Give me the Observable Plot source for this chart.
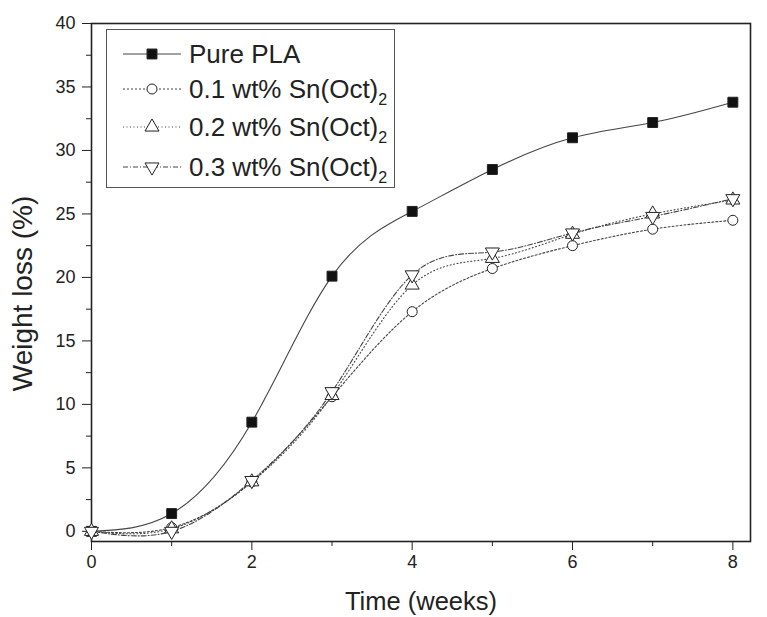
<!DOCTYPE html>
<html>
<head>
<meta charset="utf-8">
<script src="https://cdn.jsdelivr.net/npm/d3@7"></script>
<script src="https://cdn.jsdelivr.net/npm/@observablehq/plot@0.6"></script>
<style>
  body { margin: 0; background: #fff; font-family: "Liberation Sans", Arial, sans-serif; }
  #wrap { position: relative; width: 767px; height: 617px; }
  #legend { position: absolute; left: 106px; top: 29px; width: 289px; height: 159px; box-sizing: border-box;
            border: 1.5px solid #555; background: #fff; }
  .row { position: absolute; left: 0; height: 36px; display: flex; align-items: center; }
  .row svg { position: absolute; left: 16px; top: 0; }
  .row span { position: absolute; left: 82px; white-space: nowrap; font-size: 26px; color: #222; line-height: 36px; }
  .row sub { font-size: 16px; vertical-align: -7px; line-height: 0; }
</style>
</head>
<body>
<div id="wrap"></div>
<script>
// ---- data ----
const weeks = [0, 1, 2, 3, 4, 5, 6, 7, 8];
const purePLA = [0, 1.4, 8.6, 20.1, 25.2, 28.5, 31.0, 32.2, 33.8];
const sn01 = [0, 0.3, 3.9, 10.6, 17.3, 20.7, 22.5, 23.8, 24.5];
const sn02 = [0, 0.2, 3.9, 10.7, 19.4, 21.5, 23.4, 25.0, 26.1];
const sn03 = [0, 0.0, 4.0, 11.0, 20.2, 22.0, 23.5, 24.8, 26.2];
const seriesNames = ["Pure PLA", "0.1 wt% Sn(Oct)2", "0.2 wt% Sn(Oct)2", "0.3 wt% Sn(Oct)2"];
const xMajorTicks = [0, 2, 4, 6, 8];
const xMinorTicks = [1, 3, 5, 7];
const yMajorTicks = [0, 5, 10, 15, 20, 25, 30, 35, 40];
const yMinorTicks = [2.5, 7.5, 12.5, 17.5, 22.5, 27.5, 32.5, 37.5];

const triangleDown = {
  draw(ctx, size) {
    const a = Math.sqrt(4 * size / Math.sqrt(3));
    const h = a * Math.sqrt(3) / 2;
    ctx.moveTo(0, h * 2 / 3);
    ctx.lineTo(-a / 2, -h / 3);
    ctx.lineTo(a / 2, -h / 3);
    ctx.closePath();
  }
};

const styles = [
  {values: purePLA, symbol: "square", fill: "#111", dash: null, r: 5.6},
  {values: sn01, symbol: "circle", fill: "white", dash: "2,2", r: 5},
  {values: sn02, symbol: "triangle", fill: "white", dash: "1,2.5", r: 5.2},
  {values: sn03, symbol: triangleDown, fill: "white", dash: "5,2,1,2", r: 5.2}
];

const table = seriesNames.flatMap((name, s) =>
  weeks.map((w, i) => ({series: name, week: w, loss: styles[s].values[i]})));

const font = '"Liberation Sans", Arial, sans-serif';

const marks = [
  Plot.axisX({ticks: xMajorTicks, tickSize: 9, tickPadding: 5, fontSize: 18, label: null, stroke: "#222"}),
  Plot.axisX({ticks: xMinorTicks, tickSize: 5, text: null, label: null, stroke: "#222"}),
  Plot.axisY({ticks: yMajorTicks, tickSize: 9, tickPadding: 7, fontSize: 18, label: null, stroke: "#222"}),
  Plot.axisY({ticks: yMinorTicks, tickSize: 5, text: null, label: null, stroke: "#222"}),
  Plot.frame({stroke: "#222", strokeWidth: 1.6}),
  Plot.text(["Time (weeks)"], {frameAnchor: "bottom", dy: 68, fontSize: 25.5, fill: "#222"}),
  Plot.text(["Weight loss (%)"], {frameAnchor: "left", textAnchor: "middle", dx: -68, dy: 11, rotate: -90,
    fontSize: 28, fill: "#222"})
];

seriesNames.forEach((name, s) => {
  const st = styles[s];
  const d = table.filter(r => r.series === name);
  marks.push(Plot.line(d, {x: "week", y: "loss", curve: "natural", stroke: "#444", strokeWidth: 1.1,
    strokeDasharray: st.dash}));
});
seriesNames.forEach((name, s) => {
  const st = styles[s];
  const d = table.filter(r => r.series === name);
  marks.push(Plot.dot(d, {x: "week", y: "loss", symbol: () => st.symbol, r: st.r, fill: st.fill,
    stroke: "#222", strokeWidth: 1}));
});

const chart = Plot.plot({
  width: 767, height: 617,
  marginLeft: 91, marginRight: 17, marginTop: 23, marginBottom: 76,
  x: {domain: [0, 8.22]},
  y: {domain: [-0.8, 40]},
  symbol: {type: "identity"},
  style: {fontFamily: font, fontSize: "18px", color: "#222", background: "white"},
  marks
});
document.getElementById("wrap").appendChild(chart);

// ---- legend (inside the plot area) ----
const legend = document.createElement("div");
legend.id = "legend";
const rowCenters = [24, 59, 97, 137];
seriesNames.forEach((name, s) => {
  const st = styles[s];
  const row = document.createElement("div");
  row.className = "row";
  row.style.top = (rowCenters[s] - 18) + "px";
  const svg = d3.create("svg").attr("width", 60).attr("height", 36);
  svg.append("line").attr("x1", 0).attr("x2", 58).attr("y1", 18).attr("y2", 18)
    .attr("stroke", "#444").attr("stroke-width", 1.1).attr("stroke-dasharray", st.dash);
  const sym = typeof st.symbol === "string"
    ? {square: d3.symbolSquare, circle: d3.symbolCircle, triangle: d3.symbolTriangle}[st.symbol]
    : st.symbol;
  svg.append("path").attr("transform", "translate(29,18)")
    .attr("d", d3.symbol(sym, Math.PI * st.r * st.r)())
    .attr("fill", st.fill).attr("stroke", "#222");
  row.appendChild(svg.node());
  const label = document.createElement("span");
  const m = name.match(/^(.*\))(\d)$/);
  if (m) { label.append(m[1]); const sub = document.createElement("sub"); sub.textContent = m[2]; label.append(sub); }
  else label.textContent = name;
  row.appendChild(label);
  legend.appendChild(row);
});
document.getElementById("wrap").appendChild(legend);
</script>
</body>
</html>
